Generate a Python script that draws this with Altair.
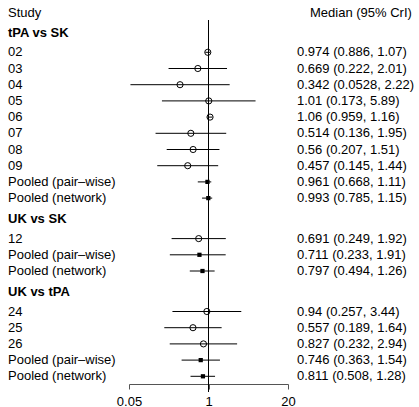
import altair as alt
import pandas as pd

FONT = "Liberation Sans"

groups = ["tPA vs SK", "UK vs SK", "UK vs tPA"]
labels = [
    ["02", "03", "04", "05", "06", "07", "08", "09", "Pooled (pair–wise)", "Pooled (network)"],
    ["12", "Pooled (pair–wise)", "Pooled (network)"],
    ["24", "25", "26", "Pooled (pair–wise)", "Pooled (network)"],
]
medians = [
    [0.974, 0.669, 0.342, 1.01, 1.06, 0.514, 0.56, 0.457, 0.961, 0.993],
    [0.691, 0.711, 0.797],
    [0.94, 0.557, 0.827, 0.746, 0.811],
]
lowers = [
    [0.886, 0.222, 0.0528, 0.173, 0.959, 0.136, 0.207, 0.145, 0.668, 0.785],
    [0.249, 0.233, 0.494],
    [0.257, 0.189, 0.232, 0.363, 0.508],
]
uppers = [
    [1.07, 2.01, 2.22, 5.89, 1.16, 1.95, 1.51, 1.44, 1.11, 1.15],
    [1.92, 1.91, 1.26],
    [3.44, 1.64, 2.94, 1.54, 1.28],
]
tick_values = [0.05, 1, 20]


def fmt(v):
    return "%.3g" % v


rows = []
heads = []
k = 0.0
for gi, g in enumerate(groups):
    heads.append({"label": g, "k": k - 1.2})
    for lab, m, lo, hi in zip(labels[gi], medians[gi], lowers[gi], uppers[gi]):
        rows.append({
            "label": lab, "med": m, "lo": lo, "hi": hi,
            "kind": "pooled" if lab.startswith("Pooled") else "study",
            "k": k,
            "txt": f"{fmt(m)} ({fmt(lo)}, {fmt(hi)})",
        })
        k += 1
    k += 1.5

df = pd.DataFrame(rows)
hd = pd.DataFrame(heads)
top = pd.DataFrame([{"left": "Study", "right": "Median (95% CrI)", "k": -2.4}])

xs = alt.Scale(type="log", domain=[0.05, 20], range=[129, 288], nice=False)
ys = alt.Scale(domain=[0, 20], range=[52.3, 376.3], nice=False, zero=False)

base = alt.Chart(df)

ci = base.mark_rule(color="black", strokeWidth=1).encode(
    x=alt.X("lo:Q", scale=xs, axis=alt.Axis(
        values=tick_values, format="~g", grid=False, title=None,
        domainColor="#555", tickColor="#555", tickSize=5, domainWidth=1,
        labelFont=FONT, labelFontSize=13, labelColor="black",
        labelPadding=6, labelFlush=False, labelOverlap=False)),
    x2="hi:Q",
    y=alt.Y("k:Q", scale=ys, axis=None),
)

ref = alt.Chart(df).mark_rule(color="black", strokeWidth=1).encode(
    x=alt.datum(1, scale=xs), y=alt.value(20), y2=alt.value(392)
)

circles = base.transform_filter(alt.datum.kind == "study").mark_point(
    shape="circle", filled=False, color="black", size=38, strokeWidth=1, opacity=1
).encode(x=alt.X("med:Q", scale=xs), y=alt.Y("k:Q", scale=ys))

squares = base.transform_filter(alt.datum.kind == "pooled").mark_point(
    shape="square", filled=True, color="black", size=18, opacity=1
).encode(x=alt.X("med:Q", scale=xs), y=alt.Y("k:Q", scale=ys))

left_txt = base.mark_text(align="left", baseline="middle", font=FONT, fontSize=13, color="black").encode(
    x=alt.value(8), y=alt.Y("k:Q", scale=ys), text="label:N"
)
right_txt = base.mark_text(align="left", baseline="middle", font=FONT, fontSize=13, color="black").encode(
    x=alt.value(297), y=alt.Y("k:Q", scale=ys), text="txt:N"
)
head_txt = alt.Chart(hd).mark_text(align="left", baseline="middle", font=FONT, fontSize=13,
                                   fontWeight="bold", color="black").encode(
    x=alt.value(8), y=alt.Y("k:Q", scale=ys), text="label:N"
)
top_left = alt.Chart(top).mark_text(align="left", baseline="middle", font=FONT, fontSize=13, color="black").encode(
    x=alt.value(8), y=alt.Y("k:Q", scale=ys), text="left:N"
)
top_right = alt.Chart(top).mark_text(align="left", baseline="middle", font=FONT, fontSize=13, color="black").encode(
    x=alt.value(310), y=alt.Y("k:Q", scale=ys), text="right:N"
)

chart = alt.layer(ci, ref, circles, squares, left_txt, right_txt, head_txt, top_left, top_right).properties(
    width=419, height=384, autosize="none",
    padding={"left": 0, "top": 0, "right": 0, "bottom": 23},
    background="white",
).configure_view(strokeWidth=0)

chart.save("out.html", embed_options={"renderer": "svg", "actions": False})
